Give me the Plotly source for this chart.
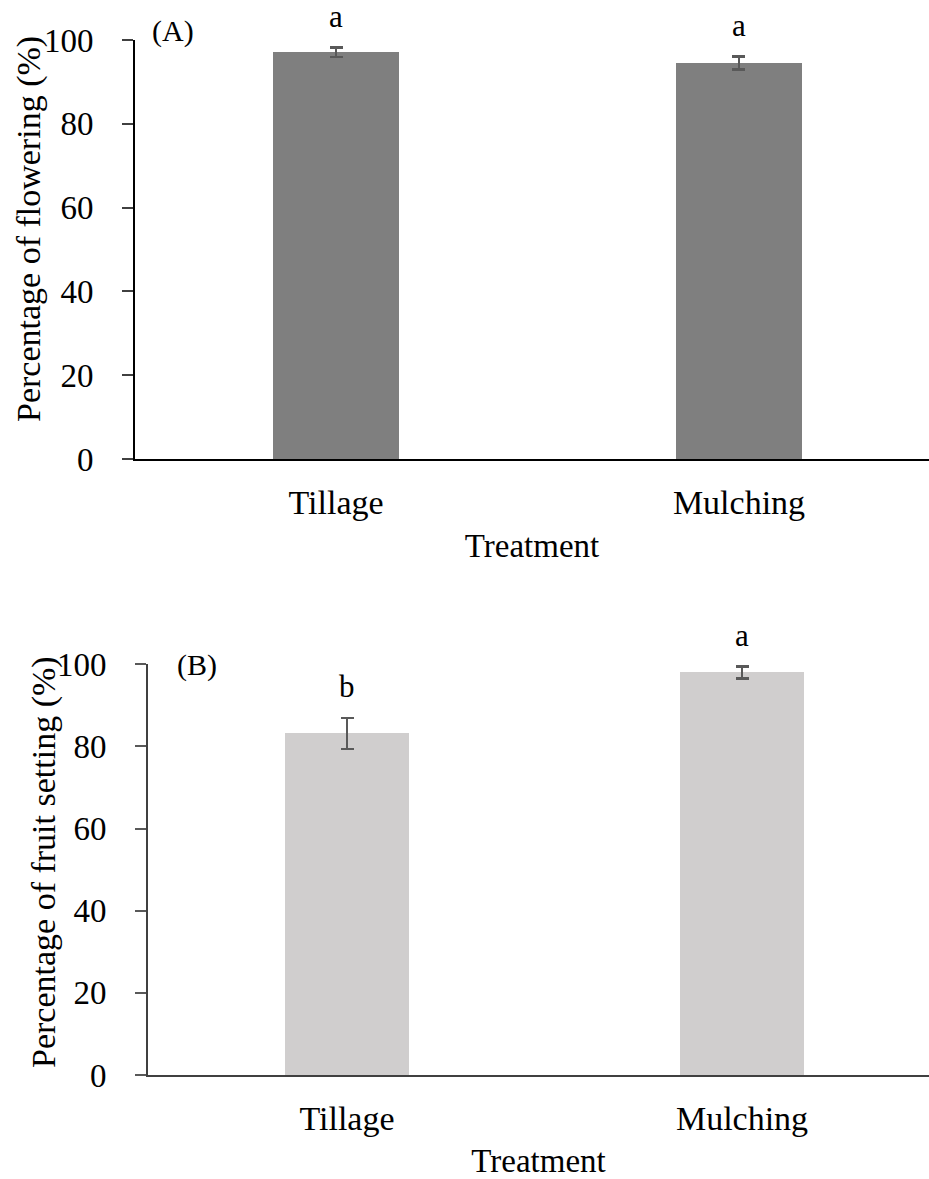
import plotly.graph_objects as go

# Data
treatments = ["Tillage", "Mulching"]
flowering_pct = [97.1, 94.5]
flowering_se = [1.1, 1.55]
flowering_letters = ["a", "a"]
fruitset_pct = [83.2, 98.0]
fruitset_se = [3.8, 1.45]
fruitset_letters = ["b", "a"]
y_ticks = [0, 20, 40, 60, 80, 100]

W, H = 929, 1179
FONT = "Liberation Serif"


def px_x(p):
    return p / W


def px_y(p):
    return 1 - p / H


fig = go.Figure()

fig.add_trace(go.Bar(
    x=[0, 1], y=flowering_pct, width=0.3127,
    marker=dict(color="#7f7f7f", line=dict(width=0)),
    error_y=dict(type="data", array=flowering_se, visible=True,
                 color="#595959", thickness=2.2, width=6.5),
    xaxis="x", yaxis="y", showlegend=False, hoverinfo="y",
))
fig.add_trace(go.Bar(
    x=[0, 1], y=fruitset_pct, width=0.314,
    marker=dict(color="#d0cece", line=dict(width=0)),
    error_y=dict(type="data", array=fruitset_se, visible=True,
                 color="#595959", thickness=2.2, width=6.5),
    xaxis="x2", yaxis="y2", showlegend=False, hoverinfo="y",
))

xtickfont = dict(family=FONT, size=34, color="black")
ytickfont = dict(family=FONT, size=33, color="black")
xtitlefont = dict(family=FONT, size=33, color="black")
ytitlefont = dict(family=FONT, size=34, color="black")
letterfont = dict(family=FONT, size=31, color="black")

common_x = dict(
    tickmode="array", tickvals=[0, 1], ticktext=treatments,
    tickfont=xtickfont, ticks="", showgrid=False, zeroline=False,
    showline=True, ticklabelstandoff=12, automargin=False,
)
common_y = dict(
    range=[0, 100], tickmode="array", tickvals=y_ticks,
    tickfont=ytickfont, ticks="outside", ticklen=11, showgrid=False,
    zeroline=False, showline=True, ticklabelstandoff=22, automargin=False,
)

fig.update_layout(
    width=W, height=H,
    margin=dict(l=0, r=0, t=0, b=0, pad=0, autoexpand=False),
    paper_bgcolor="white", plot_bgcolor="white",
    font=dict(family=FONT, color="black"),
    bargap=0,
    xaxis=dict(
        **common_x, domain=[px_x(135), 1], range=[-0.4988, 1.4715],
        anchor="y", linecolor="black", linewidth=2.2,
        title=dict(text="Treatment", font=xtitlefont, standoff=14),
    ),
    yaxis=dict(
        **common_y, domain=[px_y(459), px_y(40)], anchor="x",
        linecolor="black", linewidth=2, tickcolor="#404040", tickwidth=1.5,
    ),
    xaxis2=dict(
        **common_x, domain=[px_x(148), 1], range=[-0.5038, 1.4734],
        anchor="y2", linecolor="#404040", linewidth=2,
        title=dict(text="Treatment", font=xtitlefont, standoff=30),
    ),
    yaxis2=dict(
        **common_y, domain=[px_y(1075), px_y(664.3)], anchor="x2",
        linecolor="#404040", linewidth=2, tickcolor="#595959", tickwidth=1.5,
    ),
)

# Vertical axis titles
fig.add_annotation(x=px_x(29), y=px_y(229), xref="paper", yref="paper",
                   text="Percentage of flowering (%)", textangle=-90, showarrow=False,
                   xanchor="center", yanchor="middle", font=ytitlefont)
fig.add_annotation(x=px_x(44), y=px_y(862), xref="paper", yref="paper",
                   text="Percentage of fruit setting (%)", textangle=-90, showarrow=False,
                   xanchor="center", yanchor="middle", font=ytitlefont)

# Significance letters above the error bars
for i, (v, e, t) in enumerate(zip(flowering_pct, flowering_se, flowering_letters)):
    fig.add_annotation(x=i, y=v + e, xref="x", yref="y", text=t, showarrow=False,
                       yanchor="bottom", yshift=12, font=letterfont)
for i, (v, e, t) in enumerate(zip(fruitset_pct, fruitset_se, fruitset_letters)):
    fig.add_annotation(x=i, y=v + e, xref="x2", yref="y2", text=t, showarrow=False,
                       yanchor="bottom", yshift=12, font=letterfont)

# Panel labels
fig.add_annotation(x=px_x(150), y=px_y(50), xref="paper", yref="paper", text="(A)",
                   showarrow=False, xanchor="left", yanchor="bottom",
                   font=dict(family=FONT, size=30))
fig.add_annotation(x=px_x(175), y=px_y(684), xref="paper", yref="paper", text="(B)",
                   showarrow=False, xanchor="left", yanchor="bottom",
                   font=dict(family=FONT, size=30))

fig.write_html("out.html")
